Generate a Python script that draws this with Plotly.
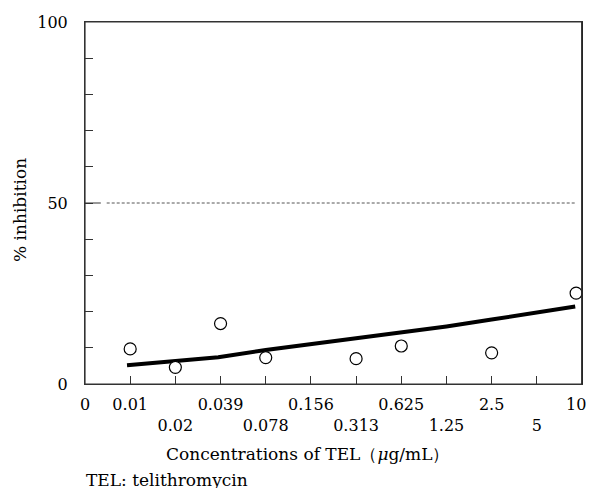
import plotly.graph_objects as go

# Tick labels (dose levels, evenly spaced on a doubling scale)
tick_labels = ["0", "0.01", "0.02", "0.039", "0.078", "0.156", "0.313",
               "0.625", "1.25", "2.5", "5", "10"]
tick_pos = list(range(len(tick_labels)))

# Observed % inhibition (dose-level position, value)
obs_x = [1, 2, 3, 4, 6, 7, 9, 10.87]
obs_y = [9.7, 4.6, 16.7, 7.3, 7.0, 10.5, 8.6, 25.1]

# Fitted curve
fit_x = [0.93, 2.0, 2.95, 4.0, 5.0, 6.0, 7.0, 8.0, 9.0, 10.0, 10.85]
fit_y = [5.2, 6.3, 7.4, 9.4, 11.0, 12.6, 14.2, 15.9, 17.8, 19.6, 21.4]

FONT = "DejaVu Serif"
FS = 16
FT = 17

ticktext = []
for i, t in enumerate(tick_labels[:-1]):
    if i % 2 == 0 and i != 0:
        ticktext.append("&nbsp;<br>" + t)
    else:
        ticktext.append(t)

fig = go.Figure()
fig.add_trace(go.Scatter(x=fit_x, y=fit_y, mode="lines",
                         line=dict(color="black", width=4), showlegend=False))
fig.add_trace(go.Scatter(x=obs_x, y=obs_y, mode="markers",
                         marker=dict(symbol="circle", size=12, color="white",
                                     line=dict(color="black", width=1.2)),
                         showlegend=False, cliponaxis=False))

fig.add_shape(type="line", x0=0.48, x1=10.88, y0=50, y1=50, xref="x", yref="y",
              line=dict(color="#555", width=1, dash="3px,2px"))
# longer tick at 50
fig.add_shape(type="line", x0=0, x1=0.35, y0=50, y1=50, xref="x", yref="y",
              line=dict(color="#333", width=1))
# frame
fig.add_shape(type="rect", x0=0, x1=1, y0=0, y1=1, xref="paper", yref="paper",
              line=dict(color="#333", width=1.2), layer="above")
# right edge of the frame, drawn explicitly
fig.add_shape(type="line", x0=1, x1=1, y0=0, y1=1, xref="paper", yref="paper",
              line=dict(color="#222", width=1.5), layer="above")

fig.update_layout(
    width=591, height=488,
    margin=dict(l=85, r=9, t=22, b=104, autoexpand=False),
    paper_bgcolor="white", plot_bgcolor="white",
    font=dict(family=FONT, size=FS, color="black"),
    xaxis=dict(range=[0, 11], tickmode="array", tickvals=tick_pos[:-1], ticktext=ticktext,
               ticks="inside", ticklen=8, tickcolor="#333", tickwidth=1,
               showline=True, linecolor="#333", linewidth=1, mirror=True,
               showgrid=False, zeroline=False, tickangle=0, ticklabelstandoff=6,
               automargin=False,
               tickfont=dict(family=FONT, size=FS)),
    yaxis=dict(range=[0, 100], tickmode="array", tickvals=[0, 50, 100],
               ticktext=["0", "50", "100"], ticks="inside", ticklen=8,
               tickcolor="#333", tickwidth=1,
               minor=dict(ticks="inside", dtick=10, ticklen=8, tickcolor="#333"),
               showline=True, linecolor="#333", linewidth=1, mirror=True,
               showgrid=False, zeroline=False, ticklabelstandoff=13,
               automargin=False,
               tickfont=dict(family=FONT, size=FS)),
)

# last tick label sits just inside the right edge
fig.add_annotation(text=tick_labels[-1], x=tick_pos[-1], xref="x", yref="paper", y=0,
                   yshift=-20, xshift=-6, showarrow=False, xanchor="center", yanchor="middle",
                   font=dict(family=FONT, size=FS))

fig.add_annotation(text="Concentrations of TEL（<i>μ</i>g/mL）", xref="paper", yref="paper",
                   x=(307 - 85) / 497, y=(384 - 454) / 362, showarrow=False,
                   font=dict(family=FONT, size=FT), xanchor="center", yanchor="middle")
fig.add_annotation(text="TEL: telithromycin", xref="paper", yref="paper",
                   x=(84 - 85) / 497, y=(384 - 480) / 362, showarrow=False,
                   font=dict(family=FONT, size=FT), xanchor="left", yanchor="middle")
fig.add_annotation(text="% inhibition", xref="paper", yref="paper",
                   x=(20 - 85) / 497, y=(384 - 210) / 362, showarrow=False, textangle=-90,
                   font=dict(family=FONT, size=FT), xanchor="center", yanchor="middle")

fig.write_html("out.html", config={"displayModeBar": False},
               post_script="document.body.style.margin='0';"
                           "document.body.style.overflow='hidden';"
                           "document.documentElement.style.overflow='hidden';")
